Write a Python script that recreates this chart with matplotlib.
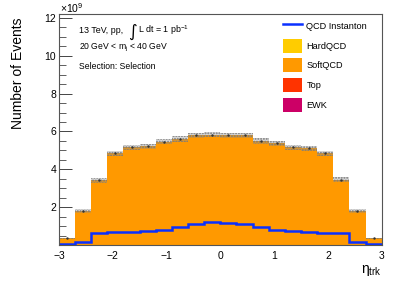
import matplotlib
matplotlib.use("Agg")
import matplotlib.pyplot as plt
import numpy as np
from matplotlib.lines import Line2D
from matplotlib.patches import Patch

plt.rcParams['font.family'] = ['Liberation Sans', 'DejaVu Sans']
plt.rcParams['mathtext.fontset'] = 'custom'
plt.rcParams['mathtext.rm'] = 'Liberation Sans'
plt.rcParams['mathtext.it'] = 'Liberation Sans:italic'
plt.rcParams['mathtext.bf'] = 'Liberation Sans:bold'
plt.rcParams['hatch.linewidth'] = 0.9

# ---- data (units of 1e9 events) ----
bin_edges = [-3.0, -2.7, -2.4, -2.1, -1.8, -1.5, -1.2, -0.9, -0.6, -0.3, 0.0,
             0.3, 0.6, 0.9, 1.2, 1.5, 1.8, 2.1, 2.4, 2.7, 3.0]
ewk = [0, 0, 0, 0, 0, 0, 0, 0, 0, 0, 0, 0, 0, 0, 0, 0, 0, 0, 0, 0]
top = [0.0, 0.02, 0.02, 0.02, 0.02, 0.02, 0.02, 0.02, 0.02, 0.02,
       0.02, 0.02, 0.02, 0.02, 0.02, 0.02, 0.02, 0.02, 0.02, 0.0]
softqcd = [0.35, 1.78, 3.40, 4.82, 5.14, 5.20, 5.45, 5.58, 5.78, 5.82,
           5.78, 5.78, 5.48, 5.35, 5.14, 5.10, 4.82, 3.42, 1.80, 0.35]
hardqcd = [0, 0, 0, 0, 0, 0, 0, 0, 0, 0, 0, 0, 0, 0, 0, 0, 0, 0, 0, 0]
stat_err = [0.05, 0.11, 0.13, 0.14, 0.13, 0.13, 0.13, 0.14, 0.14, 0.14,
            0.14, 0.14, 0.14, 0.13, 0.13, 0.13, 0.14, 0.13, 0.11, 0.05]
instanton = [0.07, 0.17, 0.63, 0.70, 0.70, 0.74, 0.80, 0.93, 1.10, 1.23,
             1.19, 1.12, 0.98, 0.80, 0.74, 0.70, 0.66, 0.63, 0.17, 0.07]

series_names = ['EWK', 'Top', 'SoftQCD', 'HardQCD']
series_vals = [ewk, top, softqcd, hardqcd]
series_cols = ['#cc0066', '#ff6a50', '#ff9900', '#ffcc00']

fig = plt.figure(figsize=(3.98, 2.87), dpi=100)
ax = fig.add_axes([0.148, 0.146, 0.811, 0.805])

edges = np.array(bin_edges)
base = np.zeros(len(edges) - 1)
for vals, col in zip(series_vals, series_cols):
    v = np.array(vals, dtype=float)
    ax.stairs(base + v, edges, baseline=base, fill=True, color=col, lw=0, zorder=1)
    base = base + v

total = base
err = np.array(stat_err)
ax.stairs(total + err, edges, baseline=total - err, fill=True,
          facecolor=(0.55, 0.55, 0.55, 0.35), edgecolor='#7a7a7a',
          hatch='......', lw=0, zorder=2)
centers = 0.5 * (edges[:-1] + edges[1:])
ax.plot(centers, total, ls='none', marker='.', ms=1.5, color='#333333', zorder=3)

ax.stairs(instanton, edges, color='#0a30ff', lw=1.8, zorder=4)

ax.set_xlim(-3, 3)
ax.set_ylim(0, 12.2)
ax.set_axisbelow(True)
ax.set_xticks([-3, -2, -1, 0, 1, 2, 3])
ax.set_xticklabels(['\u22123', '\u22122', '\u22121', '0', '1', '2', '3'])
ax.set_yticks([2, 4, 6, 8, 10, 12])
ax.set_yticks(np.arange(0.5, 12.2, 0.5), minor=True)
ax.tick_params(axis='y', which='major', direction='in', length=9, width=0.7,
               labelsize=7.5, pad=2, colors='#444444', labelcolor='black')
ax.tick_params(axis='y', which='minor', direction='in', length=5, width=0.6,
               colors='#444444')
ax.tick_params(axis='x', which='major', direction='in', length=6, width=0.7,
               labelsize=7.5, pad=4, colors='#444444', labelcolor='black')
for s in ax.spines.values():
    s.set_color('#555555')
    s.set_linewidth(0.8)
    s.set_zorder(5)

fig.text(0.045, 0.940, 'Number of Events', rotation=90, ha='center', va='top',
         fontsize=10)
fig.text(0.958, 0.048, 'η$_{\\mathrm{trk}}$', ha='right', va='baseline', fontsize=10)
fig.text(0.150, 0.955, '\u00d710$^{9}$', ha='left', va='baseline', fontsize=7.5)

fig.text(0.198, 0.885, '13 TeV, pp,', ha='left', va='baseline', fontsize=6.4)
fig.text(0.322, 0.872, '\u222b', ha='left', va='baseline', fontsize=12,
         family='DejaVu Sans')
fig.text(0.347, 0.885, 'L dt = 1 pb$^{-1}$', ha='left', va='baseline', fontsize=6.4)
fig.text(0.198, 0.827, '20 GeV < m$_{\\mathrm{j}}$ < 40 GeV', ha='left',
         va='baseline', fontsize=6.2)
fig.text(0.198, 0.760, 'Selection: Selection', ha='left', va='baseline', fontsize=6.2)

handles = [Line2D([0], [0], color='#0a30ff', lw=1.8)]
labels = ['QCD Instanton']
for name, col in zip(['HardQCD', 'SoftQCD', 'Top', 'EWK'],
                     ['#ffcc00', '#ff9900', '#ff3300', '#cc0066']):
    handles.append(Patch(facecolor=col, edgecolor='none'))
    labels.append(name)
leg = ax.legend(handles, labels, loc='upper left', bbox_to_anchor=(0.683, 0.995),
                frameon=False, fontsize=6.6, handlelength=2.1, handleheight=2.0,
                labelspacing=0.6, handletextpad=0.45, borderaxespad=0)

fig.savefig('out.png', dpi=100)
